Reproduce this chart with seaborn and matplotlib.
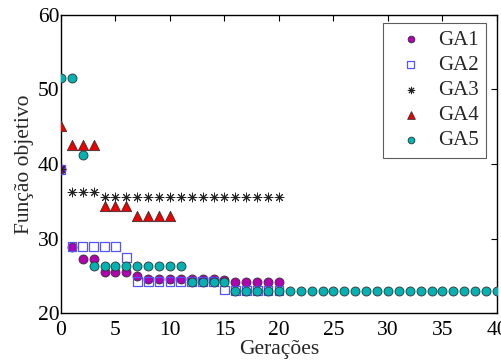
import numpy as np
import pandas as pd
import matplotlib
matplotlib.use("Agg")
import matplotlib.pyplot as plt
import seaborn as sns

# Objective value per generation for each GA run
ga1_gen = list(range(0, 21))
ga1_val = [39.3, 28.9, 27.2, 27.2, 25.5, 25.5, 25.5, 25.0, 24.5, 24.5, 24.5,
           24.5, 24.5, 24.5, 24.5, 24.4, 24.2, 24.2, 24.2, 24.2, 24.2]

ga2_gen = list(range(0, 21))
ga2_val = [39.3, 28.9, 28.9, 28.9, 28.9, 28.9, 27.5, 24.2, 24.2, 24.2, 24.2,
           24.2, 24.2, 24.2, 24.2, 23.1, 23.0, 23.0, 23.0, 23.0, 23.0]

ga3_gen = list(range(0, 21))
ga3_val = [39.3, 36.3, 36.3, 36.3] + [35.6] * 17

ga4_gen = list(range(0, 11))
ga4_val = [45.1, 42.5, 42.5, 42.5, 34.3, 34.3, 34.3, 33.0, 33.0, 33.0, 33.0]

ga5_gen = list(range(0, 41))
ga5_val = [51.5, 51.5, 41.2] + [26.3] * 9 + [24.2] * 4 + [23.0] * 25

series = [
    ("GA1", ga1_gen, ga1_val),
    ("GA2", ga2_gen, ga2_val),
    ("GA3", ga3_gen, ga3_val),
    ("GA4", ga4_gen, ga4_val),
    ("GA5", ga5_gen, ga5_val),
]

styles = {
    "GA1": dict(marker="o", s=42, color="#B000B0", edgecolor="#333333", linewidth=0.6),
    "GA2": dict(marker="s", s=40, color="none", edgecolor="#5555FF", linewidth=0.9),
    "GA3": dict(marker=(8, 2, 0), s=40, color="#222222", linewidth=0.7),
    "GA4": dict(marker="^", s=55, color="#EE0000", edgecolor="#333333", linewidth=0.6),
    "GA5": dict(marker="o", s=42, color="#00B2B2", edgecolor="#333333", linewidth=0.6),
}

sns.set_style("white")
plt.rcParams["font.family"] = ["Liberation Serif", "DejaVu Serif"]

fig = plt.figure(figsize=(5.02, 3.63), dpi=100)
ax = fig.add_axes([0.1215, 0.1377, 0.8685, 0.821])

for name, gen, val in series:
    df = pd.DataFrame({"Gerações": gen, "Função objetivo": val})
    sns.scatterplot(data=df, x="Gerações", y="Função objetivo", ax=ax,
                    label=name, zorder=3, **styles[name])

ax.set_xlim(0, 40)
ax.set_ylim(20, 60)
ax.set_xticks(np.arange(0, 41, 5))
ax.set_yticks(np.arange(20, 61, 10))
ax.tick_params(direction="in", top=True, right=True, length=4, width=0.8,
               labelsize=15.5, colors="black", pad=1)
ax.tick_params(axis="x", pad=6)
for sp in ax.spines.values():
    sp.set_color("black")
    sp.set_linewidth(1.0)
ax.set_xlabel("Gerações", fontsize=15.5, labelpad=0)
ax.set_ylabel("Função objetivo", fontsize=15.5, labelpad=3)

leg = ax.legend(loc="upper right", bbox_to_anchor=(0.984, 0.988), fontsize=15,
                frameon=True, fancybox=False, edgecolor="#333333",
                handletextpad=0.3, borderpad=0.35, labelspacing=0.27,
                markerscale=0.75, borderaxespad=0.2, handlelength=2.0)
leg.get_frame().set_linewidth(0.8)

fig.savefig("out.png", dpi=100)
